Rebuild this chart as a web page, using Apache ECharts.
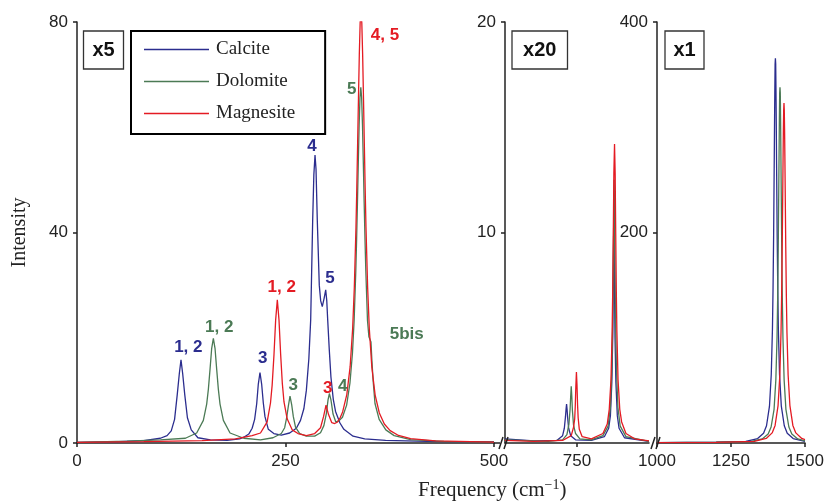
<!DOCTYPE html>
<html>
<head>
<meta charset="UTF-8">
<title>Raman spectra of carbonates</title>
<script src="https://cdn.jsdelivr.net/npm/echarts@6/dist/echarts.min.js"></script>
<style>
    html, body { margin: 0; padding: 0; background: #fff; }
    #main { width: 830px; height: 504px; }
</style>
</head>
<body>
<div id="main"></div>
<script>
// spectra, [frequency cm-1, intensity]
// panel A: 0-500 (x5), panel B: 500-1000 (x20), panel C: 1000-1500 (x1)
var calciteA = [[0,0.1],[50,0.25],[80,0.45],[100,0.9],[108,1.4],[113,2.3],[117,4.5],[120.2,9.2],[122.7,13.2],[124.7,15.8],[126.7,13.2],[129.2,9.2],[132.4,4.8],[137,2.5],[145,1.0],[160,0.6],[180,0.5],[195,0.8],[200,1.1],[206,1.7],[210,2.8],[213,4.5],[215.5,7.5],[217.4,11.2],[219.4,13.4],[221.4,11.2],[223.4,7.6],[225.4,5.0],[229.4,2.6],[236,1.8],[245,1.5],[255,1.9],[263,2.8],[268,4.3],[272,6.5],[275,10],[278,16],[280.2,23.4],[282.6,42.4],[284,51],[285.4,54.7],[286.6,52],[288.1,42.4],[290.5,30],[292.2,27],[294.1,25.9],[296.3,27.5],[298.2,29.1],[299.5,27],[300.6,23.4],[302.5,17.7],[304.5,12.5],[307.3,8.3],[310,6.0],[315.3,3.8],[320,2.6],[331,1.3],[345,0.8],[370,0.5],[420,0.3],[500,0.2]];
var dolomiteA = [[0,0.1],[60,0.35],[100,0.6],[130,0.9],[143.5,1.9],[151.5,4.3],[155.5,7.4],[157.5,10.2],[159.5,14],[161.5,18],[163.5,19.9],[165.5,18],[167.5,14],[169.5,10.2],[171.5,7.4],[175.5,4.3],[183.5,1.9],[200,0.9],[220,0.6],[235,1.0],[245,1.8],[249,2.9],[251.4,4.8],[253.4,7.0],[255.4,8.9],[257.4,7.3],[259.4,5.0],[262,3.0],[267,1.8],[275,1.3],[285,1.3],[292,1.95],[296,3.3],[299,5.6],[301,8.2],[302.6,9.4],[304.5,8.2],[307,5.5],[310.3,4.0],[314,4.2],[318.3,4.9],[323.3,7.2],[327.3,11.4],[330.3,17.1],[332.3,23.3],[334.3,32.7],[335.3,38.8],[336.3,45.8],[337.3,53.3],[338.3,60.4],[339.3,65.6],[340.3,67.6],[341.3,65.6],[342.3,60.4],[343.3,53.3],[344.3,45.8],[345.3,38.8],[346.3,32.7],[348.3,23.3],[350,20.2],[351.5,19.9],[352.5,19.2],[353.5,16],[355,12],[357.3,7.5],[362.3,4.5],[370.3,2.5],[380.3,1.4],[400,0.65],[440,0.3],[500,0.15]];
var magnesiteA = [[0,0.1],[80,0.25],[150,0.45],[190,0.8],[210,1.4],[220,1.9],[228,4.0],[232,7.6],[234,11.0],[236.2,16.8],[238.2,23.4],[240.2,27.2],[242.2,23.4],[244.2,16.8],[246.2,11.3],[248.2,7.8],[252,4.6],[258,2.5],[265,1.8],[275,1.4],[285,1.8],[292,2.9],[295.6,5.0],[298.6,7.2],[301.6,5.4],[305.5,3.85],[309,3.7],[312.5,4.0],[315.5,4.8],[318.5,5.9],[323.5,9.2],[327.5,14.5],[330.5,21.7],[332.5,29.5],[334.5,41],[335.5,48.5],[336.5,57],[337.5,65.6],[338.5,73.8],[339.5,79.8],[340.5,82],[341.5,79.8],[342.5,73.8],[343.5,65.6],[344.5,57],[345.5,48.5],[346.5,41],[348.5,29.5],[350.5,21.7],[353.5,14.4],[357.5,9.1],[362.5,5.7],[368.5,3.6],[375.5,2.35],[385.5,1.43],[400,0.85],[430,0.4],[500,0.15]];

var calciteB = [[500,0.2],[600,0.1],[680,0.12],[700,0.35],[706,0.7],[710,1.25],[712,1.6],[713.8,1.85],[715.5,1.6],[717.5,1.2],[721,0.7],[728,0.35],[745,0.15],[800,0.12],[845,0.3],[860,0.7],[866,1.3],[871,2.9],[874,5.0],[876,7.8],[877,9.6],[878,11],[879,9.6],[880,7.8],[882,5.0],[885,2.9],[890,1.3],[896,0.7],[915,0.25],[1000,0.08]];
var dolomiteB = [[500,0.15],[650,0.08],[700,0.15],[715,0.4],[722,0.9],[726,1.6],[728,2.2],[730,2.7],[732,2.2],[734,1.55],[738,0.85],[745,0.45],[760,0.2],[800,0.15],[840,0.35],[858,0.8],[866,1.7],[871,3.5],[874,5.7],[876,8.3],[877.5,10.8],[879,12.5],[880.5,10.8],[882,8.3],[884,5.7],[887,3.5],[892,1.7],[900,0.8],[920,0.3],[1000,0.08]];
var magnesiteB = [[500,0.12],[600,0.08],[700,0.12],[730,0.35],[738,0.75],[742,1.15],[744,1.75],[746,2.7],[748,3.37],[750,2.75],[752,1.8],[754,1.2],[758,0.65],[768,0.3],[800,0.2],[840,0.45],[855,0.9],[862,1.6],[868,3.0],[872,5.3],[874,7.2],[876,9.9],[878,12.8],[880.3,14.2],[882.5,12.8],[884.5,9.9],[886.5,7.2],[888.5,5.3],[892.5,3.0],[898.5,1.6],[905,1.0],[920,0.45],[950,0.2],[1000,0.1]];

var calciteC = [[1000,0.3],[1200,0.8],[1300,1.5],[1340,4.2],[1360,9.3],[1370,16.4],[1380,35],[1386,65],[1390,108],[1392,146],[1394,197],[1396,265],[1397,301],[1398,334],[1399,360],[1400,365.5],[1401,360],[1402,334],[1403,301],[1404,265],[1406,197],[1408,146],[1410,108],[1414,65],[1420,35],[1430,16.4],[1440,9.3],[1460,4.2],[1500,1.5]];
var dolomiteC = [[1000,0.3],[1200,0.7],[1315.5,1.4],[1355.5,3.9],[1375.5,8.6],[1385.5,15.2],[1395.5,32],[1401.5,60],[1405.5,100],[1407.5,135],[1409.5,182],[1411.5,245],[1412.5,278],[1413.5,309],[1414.5,333],[1415.5,338],[1416.5,333],[1417.5,309],[1418.5,278],[1419.5,245],[1421.5,182],[1423.5,135],[1425.5,100],[1429.5,60],[1435.5,32],[1445.5,15.2],[1455.5,8.6],[1475.5,3.9],[1500,2.0]];
var magnesiteC = [[1000,0.3],[1200,0.6],[1329,1.6],[1369,4.3],[1389,9.6],[1399,16.7],[1409,35.6],[1415,64.6],[1419,105.4],[1421,139.5],[1423,186.1],[1425,243.7],[1426,272.9],[1427,298.6],[1428,316.5],[1429,323],[1430,316.5],[1431,298.6],[1432,272.9],[1433,243.7],[1435,186.1],[1437,139.5],[1439,105.4],[1443,64.6],[1449,35.6],[1459,16.7],[1469,9.6],[1489,4.3],[1500,3.3]];

// band labels in panel A: [text, frequency, intensity]
var calciteTags = [['1, 2',133.5,18.2],['3',222.7,16.1],['4',281.7,56.4],['5',303.3,31.3]];
var dolomiteTags = [['1, 2',170.6,22.0],['3',259.3,10.9],['4',318.6,10.8],['5',329.4,67.2],['5bis',395.3,20.6]];
var magnesiteTags = [['1, 2',245.4,29.6],['3',300.6,10.4],['4, 5',369.3,77.4]];

var xRanges = [[0,500],[500,1000],[1000,1500]];
var xTicks = [[0,250,500],[750],[1000,1250,1500]];
var yRanges = [[0,80,40],[0,20,10],[0,400,200]];
var scales = ['x5','x20','x1'];

var minerals = ['Calcite','Dolomite','Magnesite'];
var colors = ['#2b2d8e','#4b7a55','#e41b23'];
var spectra = [
    [calciteA, calciteB, calciteC],
    [dolomiteA, dolomiteB, dolomiteC],
    [magnesiteA, magnesiteB, magnesiteC]
];
var tags = [calciteTags, dolomiteTags, magnesiteTags];

var sans = '"Liberation Sans", Arial, sans-serif';
var serif = '"Liberation Serif", "Times New Roman", serif';
var ink = '#222';

var gridPos = [{left: 77, width: 417}, {left: 505, width: 144}, {left: 657, width: 148}];
var grids = gridPos.map(function (g) {
    return {left: g.left, width: g.width, top: 22, height: 421};
});

function plain(v) { return String(v); }

var xAxes = [], yAxes = [];
for (var i = 0; i < 3; i++) {
    xAxes.push({
        gridIndex: i, type: 'value', min: xRanges[i][0], max: xRanges[i][1], interval: 250,
        axisLine: {show: true, lineStyle: {color: ink, width: 1.5}},
        axisTick: {show: true, length: 4, customValues: xTicks[i], lineStyle: {color: ink, width: 1.5}},
        axisLabel: {customValues: xTicks[i], formatter: plain, margin: 10, color: ink, fontSize: 17, fontFamily: sans},
        splitLine: {show: false}
    });
    yAxes.push({
        gridIndex: i, type: 'value', min: yRanges[i][0], max: yRanges[i][1], interval: yRanges[i][2],
        axisLine: {show: true, lineStyle: {color: ink, width: 1.5}},
        axisTick: {show: true, length: 4, lineStyle: {color: ink, width: 1.5}},
        axisLabel: {showMinLabel: i === 0, formatter: plain, margin: 9, color: ink, fontSize: 17, fontFamily: sans},
        splitLine: {show: false}
    });
}
yAxes[0].name = 'Intensity';
yAxes[0].nameLocation = 'middle';
yAxes[0].nameGap = 47;
yAxes[0].nameTextStyle = {fontFamily: serif, fontSize: 20, color: ink};

var series = [];
minerals.forEach(function (name, m) {
    for (var p = 0; p < 3; p++) {
        var s = {
            name: name, type: 'line', xAxisIndex: p, yAxisIndex: p,
            data: spectra[m][p], showSymbol: false, symbol: 'none', clip: true,
            lineStyle: {color: colors[m], width: 1.3}, itemStyle: {color: colors[m]},
            animation: false, z: 2 + m
        };
        if (p === 0) {
            s.markPoint = {
                symbol: 'circle', symbolSize: 1, itemStyle: {color: 'rgba(0,0,0,0)'},
                label: {show: true, position: 'inside', formatter: '{b}', color: colors[m],
                    fontFamily: sans, fontWeight: 'bold', fontSize: 17},
                data: tags[m].map(function (t) { return {name: t[0], coord: [t[1], t[2]]}; })
            };
        }
        series.push(s);
    }
});

// scale boxes, axis breaks and the shared x title
var graphics = [];
var boxes = [[83.5, 40], [512, 55.5], [665, 39]];
boxes.forEach(function (b, i) {
    graphics.push({type: 'rect', shape: {x: b[0], y: 31, width: b[1], height: 38},
        style: {fill: '#fff', stroke: '#333', lineWidth: 1.3}, z: 10});
    graphics.push({type: 'text', x: b[0] + b[1] / 2, y: 50,
        style: {text: scales[i], fill: '#111', font: 'bold 20px ' + sans, align: 'center', verticalAlign: 'middle'}, z: 11});
});
[500, 652].forEach(function (bx) {
    graphics.push({type: 'line', shape: {x1: bx - 1, y1: 449, x2: bx + 3, y2: 437}, style: {stroke: ink, lineWidth: 1.5}, z: 10});
    graphics.push({type: 'line', shape: {x1: bx + 4, y1: 449, x2: bx + 8, y2: 437}, style: {stroke: ink, lineWidth: 1.5}, z: 10});
});
graphics.push({type: 'line', shape: {x1: 494, y1: 443, x2: 500, y2: 443}, style: {stroke: ink, lineWidth: 1.5}});
graphics.push({
    type: 'text', left: 418, top: 478,
    style: {
        text: '{a|Frequency (cm}{s|\u22121}{a|)}',
        rich: {
            a: {fontFamily: serif, fontSize: 21, fill: ink, lineHeight: 24},
            s: {fontFamily: serif, fontSize: 14, fill: ink, lineHeight: 24, padding: [0, 0, 10, 0]}
        }
    }
});

var myChart = echarts.init(document.getElementById('main'), null, {renderer: 'canvas'});
myChart.setOption({
    backgroundColor: '#fff',
    animation: false,
    grid: grids,
    xAxis: xAxes,
    yAxis: yAxes,
    legend: {
        data: minerals, orient: 'vertical', left: 131, top: 31,
        icon: 'rect', itemWidth: 65, itemHeight: 1.5, itemGap: 13,
        padding: [9, 30, 11, 13],
        borderColor: '#000', borderWidth: 2, backgroundColor: '#fff',
        selectedMode: false,
        textStyle: {fontFamily: serif, fontSize: 19, color: ink, padding: [0, 0, 0, 2]}
    },
    series: series,
    graphic: graphics
});
</script>
</body>
</html>
